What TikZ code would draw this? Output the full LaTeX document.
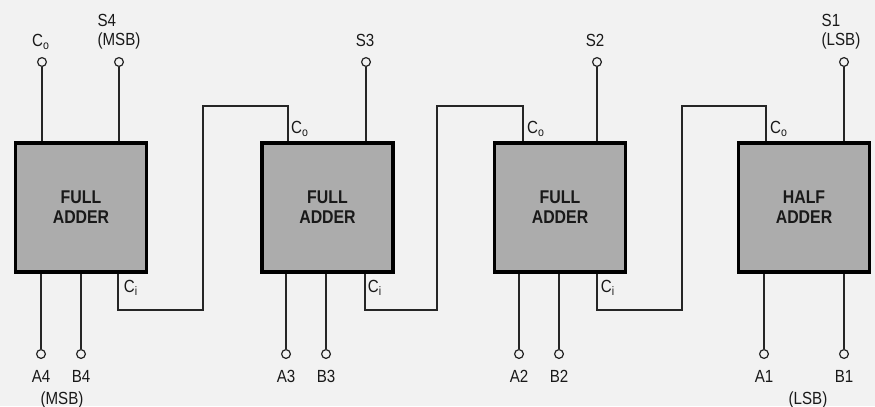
\documentclass[tikz,border=0pt]{standalone}
\usepackage{fontspec}
\setmainfont{Liberation Sans}[FakeStretch=0.86]
\usepackage{tikz}
\usetikzlibrary{calc}

\tikzset{
  adder/.style={draw=black, line width=1.9pt, fill=gray!65, minimum width=2.62cm, minimum height=2.58cm, inner sep=0pt, align=center, text=black!90, font=\bfseries\fontsize{10.5}{11.3}\selectfont},
  pin/.style={draw=black!85, circle, line width=0.7pt, minimum size=5pt, inner sep=0pt, fill=black!5},
  wire/.style={draw=black!85, line width=0.8pt},
  lbl/.style={inner sep=0pt, text=black!90, font=\fontsize{10}{10.8}\selectfont},
}

\begin{document}
\begin{tikzpicture}[x=0.02cm, y=-0.02cm]
\fill[black!5] (0,0) rectangle (875,406);
\useasboundingbox (0,0) rectangle (875,406);

% the four stages
\node[adder] (fa4) at (81,207.5) {FULL\\ADDER};
\node[adder] (fa3) at (327.5,207.5) {FULL\\ADDER};
\node[adder] (fa2) at (560,207.5) {FULL\\ADDER};
\node[adder] (ha1) at (804,207.5) {HALF\\ADDER};

% outputs
\node[pin] (co4) at (42,62) {};
\node[pin] (s4) at (119,62) {};
\node[pin] (s3) at (366,62) {};
\node[pin] (s2) at (597,62) {};
\node[pin] (s1) at (844,62) {};
\draw[wire] (co4) -- (co4 |- fa4.north);
\draw[wire] (s4) -- (s4 |- fa4.north);
\draw[wire] (s3) -- (s3 |- fa3.north);
\draw[wire] (s2) -- (s2 |- fa2.north);
\draw[wire] (s1) -- (s1 |- ha1.north);

% inputs
\node[pin] (a4) at (41,354) {};
\node[pin] (b4) at (81,354) {};
\node[pin] (a3) at (286,354) {};
\node[pin] (b3) at (326,354) {};
\node[pin] (a2) at (519,354) {};
\node[pin] (b2) at (559,354) {};
\node[pin] (a1) at (764,354) {};
\node[pin] (b1) at (844,354) {};
\draw[wire] (a4) -- (a4 |- fa4.south);
\draw[wire] (b4) -- (b4 |- fa4.south);
\draw[wire] (a3) -- (a3 |- fa3.south);
\draw[wire] (b3) -- (b3 |- fa3.south);
\draw[wire] (a2) -- (a2 |- fa2.south);
\draw[wire] (b2) -- (b2 |- fa2.south);
\draw[wire] (a1) -- (a1 |- ha1.south);
\draw[wire] (b1) -- (b1 |- ha1.south);

% carry chain
\coordinate (ci4) at (118,310);
\coordinate (ci3) at (365,310);
\coordinate (ci2) at (597,310);
\coordinate (co3) at (288,106);
\coordinate (co2) at (523,106);
\coordinate (co1) at (766,106);
\draw[wire] (ci4 |- fa4.south) -- (ci4) -- ++(85,0) |- (co3) -- (co3 |- fa3.north);
\draw[wire] (ci3 |- fa3.south) -- (ci3) -- ++(72,0) |- (co2) -- (co2 |- fa2.north);
\draw[wire] (ci2 |- fa2.south) -- (ci2) -- ++(85,0) |- (co1) -- (co1 |- ha1.north);

% labels
\node[lbl] (lco4) at (41,42) {C\textsubscript{o}};
\node[lbl, align=left] (ls4) at (119,32) {S4\\(MSB)};
\node[lbl] (ls3) at (365,40) {S3};
\node[lbl] (ls2) at (595,40) {S2};
\node[lbl, align=left] (ls1) at (841,32) {S1\\(LSB)};
\node[lbl] (lco3) at (300,129) {C\textsubscript{o}};
\node[lbl] (lco2) at (536,129) {C\textsubscript{o}};
\node[lbl] (lco1) at (779,129) {C\textsubscript{o}};
\node[lbl] (lci4) at (131,288) {C\textsubscript{i}};
\node[lbl] (lci3) at (375,288) {C\textsubscript{i}};
\node[lbl] (lci2) at (608,288) {C\textsubscript{i}};
\node[lbl] (la4) at (41,376) {A4};
\node[lbl] (lb4) at (81,376) {B4};
\node[lbl] (lmsb) at (62,400) {(MSB)};
\node[lbl] (la3) at (286,376) {A3};
\node[lbl] (lb3) at (326,376) {B3};
\node[lbl] (la2) at (519,376) {A2};
\node[lbl] (lb2) at (559,376) {B2};
\node[lbl] (la1) at (764,376) {A1};
\node[lbl] (lb1) at (844,376) {B1};
\node[lbl] (llsb) at (808,400) {(LSB)};
\end{tikzpicture}
\end{document}
